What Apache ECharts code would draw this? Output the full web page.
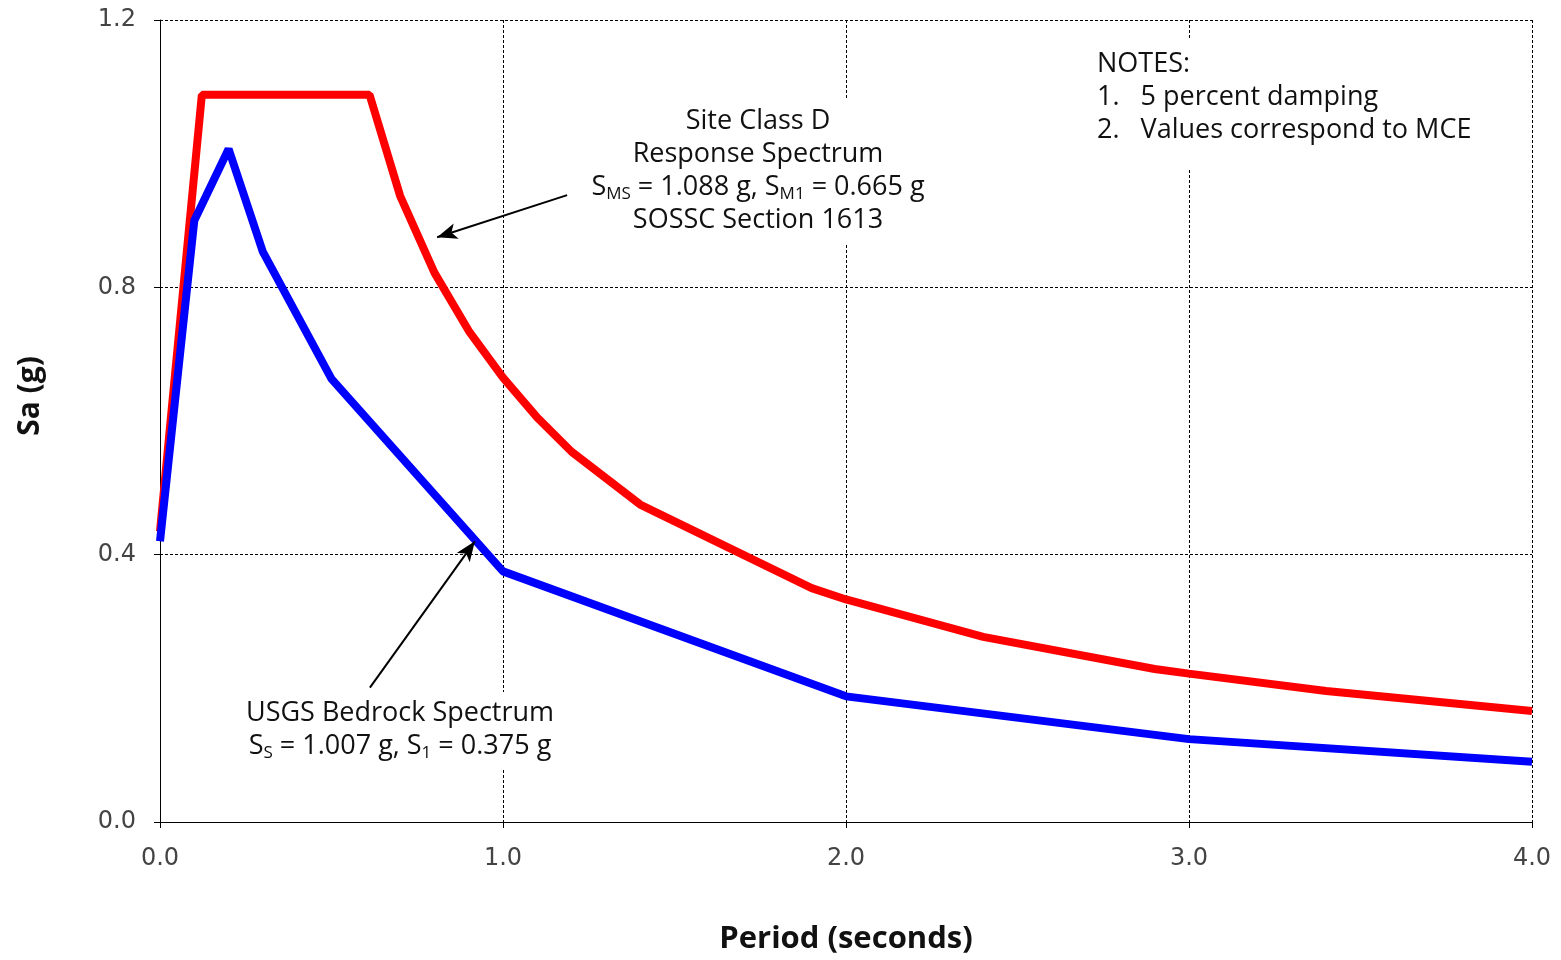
<!DOCTYPE html>
<html>
<head>
<meta charset="utf-8">
<script src="https://cdn.jsdelivr.net/npm/echarts@6/dist/echarts.min.js"></script>
<style>
html,body{margin:0;padding:0;background:#fff;overflow:hidden;}
#chart{width:1561px;height:960px;}
</style>
</head>
<body>
<div id="chart"></div>
<script>
// Site Class D response spectrum (red)
const sitePeriods = [0, 0.122, 0.611, 0.7, 0.8, 0.9, 1.0, 1.1, 1.2, 1.4, 1.9, 2.0, 2.4, 2.9, 3.0, 3.4, 4.0];
const siteSa      = [0.435, 1.088, 1.088, 0.937, 0.822, 0.735, 0.665, 0.605, 0.554, 0.475, 0.35, 0.333, 0.277, 0.229, 0.222, 0.196, 0.166];
// USGS bedrock spectrum (blue)
const rockPeriods = [0, 0.1, 0.2, 0.3, 0.5, 1.0, 2.0, 3.0, 4.0];
const rockSa      = [0.42, 0.9, 1.007, 0.853, 0.663, 0.375, 0.188, 0.124, 0.09];
// axis ticks
const xTicks = [0, 1, 2, 3, 4];
const yTicks = [0, 0.4, 0.8, 1.2];
// annotation arrows [fromT, fromSa, toT, toSa]
const arrowSite = [1.187, 0.938, 0.808, 0.875];
const arrowRock = [0.612, 0.201, 0.918, 0.420];

const textFont = '"Open Sans", "Liberation Sans", sans-serif';
const tickFont = '"DejaVu Sans", sans-serif';

const chart = echarts.init(document.getElementById('chart'), null, {width:1561, height:960});

function pairs(xs, ys){ return xs.map((x,i)=>[x, ys[i]]); }

const splitStyle = {show:true, lineStyle:{color:'#000', width:1, type:[3,2]}};
const richText = {
  n:{fontSize:27, fontFamily:textFont, lineHeight:33, fill:'#111', verticalAlign:'middle'},
  s:{fontSize:17, fontFamily:textFont, lineHeight:20, fill:'#111', verticalAlign:'top', padding:[15,0,0,0]}
};

chart.setOption({
  animation:false,
  backgroundColor:'#fff',
  grid:{left:160, top:20, width:1372, height:805, containLabel:false},
  xAxis:{
    type:'value', min:xTicks[0], max:xTicks[xTicks.length-1], interval:1,
    axisLine:{show:true, lineStyle:{color:'#000', width:1}},
    axisTick:{show:true, length:6, lineStyle:{color:'#000'}},
    axisLabel:{formatter:v=>v.toFixed(1), fontSize:24, color:'#444', margin:25, fontFamily:tickFont},
    splitLine:splitStyle,
    name:'Period (seconds)', nameLocation:'middle', nameGap:102,
    nameTextStyle:{fontSize:31, fontWeight:'bold', color:'#111', fontFamily:textFont}
  },
  yAxis:{
    type:'value', min:yTicks[0], max:yTicks[yTicks.length-1], interval:0.4,
    axisLine:{show:true, lineStyle:{color:'#000', width:1}},
    axisTick:{show:true, length:6, lineStyle:{color:'#000'}},
    axisLabel:{formatter:v=>v.toFixed(1), fontSize:24, color:'#444', margin:24, fontFamily:tickFont},
    splitLine:splitStyle,
    name:'Sa (g)', nameLocation:'middle', nameGap:115, nameRotate:90,
    nameTextStyle:{fontSize:30, fontWeight:'bold', color:'#111', fontFamily:textFont, padding:[0,0,0,50]}
  },
  series:[
    {
      name:'Site Class D', type:'line', data:pairs(sitePeriods, siteSa),
      showSymbol:false, lineStyle:{color:'#ff0000', width:8}, itemStyle:{color:'#ff0000'}, z:3,
      markLine:{
        silent:true, symbol:['none','arrow'], symbolSize:[12,20],
        lineStyle:{color:'#000', width:2, type:'solid'}, label:{show:false},
        data:[
          [{coord:[arrowSite[0], arrowSite[1]]},{coord:[arrowSite[2], arrowSite[3]]}],
          [{coord:[arrowRock[0], arrowRock[1]]},{coord:[arrowRock[2], arrowRock[3]]}]
        ]
      }
    },
    {
      name:'USGS Bedrock', type:'line', data:pairs(rockPeriods, rockSa),
      showSymbol:false, lineStyle:{color:'#0000ff', width:8}, itemStyle:{color:'#0000ff'}, z:4
    }
  ],
  graphic:[
    {
      type:'rect', z:1, silent:true,
      shape:{x:572, y:98, width:375, height:146},
      style:{fill:'#fff'}
    },
    {
      type:'text', z:10, silent:true, x:758, y:105,
      style:{
        text:'{n|Site Class D}\n{n|Response Spectrum}\n{n|S}{s|MS}{n| = 1.088 g, S}{s|M1}{n| = 0.665 g}\n{n|SOSSC Section 1613}',
        align:'center', verticalAlign:'top', fill:'#111', rich:richText
      }
    },
    {
      type:'rect', z:1, silent:true,
      shape:{x:1090, y:40, width:420, height:130},
      style:{fill:'#fff'}
    },
    {
      type:'text', z:10, silent:true, x:1097, y:48,
      style:{
        text:'NOTES:\n1.   5 percent damping\n2.   Values correspond to MCE',
        align:'left', verticalAlign:'top', fill:'#111',
        font:'27px "Open Sans", sans-serif', lineHeight:33
      }
    },
    {
      type:'rect', z:1, silent:true,
      shape:{x:228, y:692, width:345, height:78},
      style:{fill:'#fff'}
    },
    {
      type:'text', z:10, silent:true, x:400, y:697,
      style:{
        text:'{n|USGS Bedrock Spectrum}\n{n|S}{s|S}{n| = 1.007 g, S}{s|1}{n| = 0.375 g}',
        align:'center', verticalAlign:'top', fill:'#111', rich:richText
      }
    }
  ]
});
</script>
</body>
</html>
